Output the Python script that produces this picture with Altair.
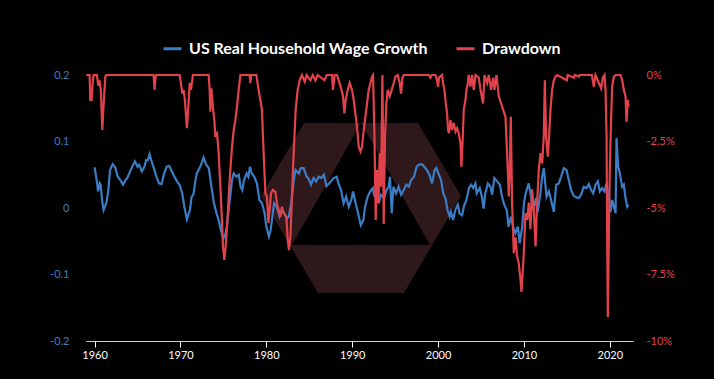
import altair as alt
import pandas as pd
import jinja2

# ---- data ----
wage_years = [1960.0, 1960.3, 1960.4, 1960.6, 1960.7, 1960.9, 1961.05, 1961.4, 1961.6, 1961.8,
              1962.1, 1962.4, 1962.7, 1963.0, 1963.3, 1963.6, 1963.8, 1964.2, 1964.5, 1964.7,
              1965.0, 1965.2, 1965.5, 1965.8, 1966.0, 1966.2, 1966.4, 1966.6, 1966.9, 1967.2,
              1967.5, 1967.8, 1968.1, 1968.4, 1968.7, 1969.0, 1969.3, 1969.6, 1969.9, 1970.2,
              1970.45, 1970.75, 1971.1, 1971.3, 1971.5, 1971.75, 1971.9, 1972.3, 1972.7, 1973.0,
              1973.3, 1973.55, 1973.9, 1974.2, 1974.45, 1974.7, 1975.0, 1975.2, 1975.4, 1975.7,
              1976.0, 1976.2, 1976.5, 1976.8, 1977.0, 1977.2, 1977.4, 1977.7, 1977.9, 1978.1,
              1978.3, 1978.6, 1978.9, 1979.2, 1979.5, 1979.8, 1980.0, 1980.3, 1980.5, 1980.7,
              1980.9, 1981.2, 1981.55, 1981.8, 1982.1, 1982.4, 1982.6, 1982.9, 1983.2, 1983.4,
              1983.8, 1984.0, 1984.35, 1984.7, 1984.9, 1985.2, 1985.5, 1985.8, 1986.1, 1986.4,
              1986.7, 1987.0, 1987.3, 1987.5, 1987.85, 1988.2, 1988.4, 1988.7, 1989.0, 1989.3,
              1989.6, 1989.9, 1990.1, 1990.4, 1990.6, 1991.0, 1991.3, 1991.5, 1991.8, 1992.1,
              1992.4, 1992.6, 1992.8, 1993.1, 1993.35, 1993.7, 1994.0, 1994.25, 1994.4, 1994.6,
              1994.8, 1995.1, 1995.4, 1995.7, 1996.0, 1996.3, 1996.6, 1996.85, 1997.2, 1997.5,
              1997.75, 1998.1, 1998.4, 1998.7, 1999.0, 1999.3, 1999.6, 1999.8, 2000.1, 2000.35,
              2000.6, 2000.85, 2001.1, 2001.35, 2001.5, 2001.75, 2002.0, 2002.3, 2002.5, 2002.8,
              2003.0, 2003.3, 2003.6, 2003.85, 2004.1, 2004.35, 2004.5, 2004.85, 2005.1, 2005.3,
              2005.5, 2005.8, 2006.1, 2006.3, 2006.55, 2006.9, 2007.2, 2007.45, 2007.7, 2008.0,
              2008.2, 2008.5, 2008.7, 2009.0, 2009.3, 2009.5, 2009.8, 2010.0, 2010.2, 2010.55,
              2010.8, 2011.1, 2011.4, 2011.6, 2011.9, 2012.1, 2012.31, 2012.63, 2012.9, 2013.16,
              2013.48, 2013.75, 2014.06, 2014.33, 2014.64, 2014.96, 2015.22, 2015.49, 2015.81, 2016.12,
              2016.39, 2016.66, 2016.97, 2017.29, 2017.56, 2017.82, 2018.06, 2018.34, 2018.6, 2018.84,
              2019.1, 2019.38, 2019.62, 2019.89, 2020.08, 2020.27, 2020.47, 2020.67, 2020.78, 2020.97,
              2021.17, 2021.44, 2021.63, 2021.83, 2022.02, 2022.18]
wage_values = [0.061, 0.037, 0.025, 0.037, 0.035, 0.009, -0.003, 0.009, 0.027, 0.057,
               0.066, 0.061, 0.047, 0.042, 0.035, 0.042, 0.045, 0.057, 0.065, 0.070,
               0.062, 0.065, 0.055, 0.062, 0.072, 0.072, 0.081, 0.072, 0.060, 0.047,
               0.037, 0.036, 0.052, 0.062, 0.063, 0.055, 0.047, 0.040, 0.035, 0.022,
               0.002, -0.017, -0.003, 0.017, 0.020, 0.042, 0.052, 0.062, 0.076, 0.065,
               0.060, 0.037, 0.007, -0.008, -0.018, -0.033, -0.046, -0.041, -0.028, 0.007,
               0.042, 0.052, 0.047, 0.050, 0.032, 0.027, 0.042, 0.052, 0.047, 0.062,
               0.052, 0.047, 0.037, 0.012, 0.007, -0.008, -0.028, -0.043, -0.033, -0.013,
               0.007, 0.002, -0.013, -0.003, -0.008, -0.016, -0.013, 0.007, 0.042, 0.057,
               0.052, 0.060, 0.060, 0.047, 0.045, 0.035, 0.045, 0.040, 0.047, 0.045,
               0.050, 0.033, 0.037, 0.040, 0.045, 0.047, 0.037, 0.027, 0.007, 0.017,
               0.002, 0.012, 0.025, 0.007, -0.003, -0.026, -0.018, 0.002, 0.017, 0.025,
               0.030, 0.017, 0.027, 0.007, 0.020, 0.015, 0.027, 0.032, 0.047, -0.008,
               0.032, 0.022, 0.032, 0.020, 0.027, 0.035, 0.032, 0.042, 0.047, 0.062,
               0.065, 0.066, 0.062, 0.057, 0.050, 0.037, 0.057, 0.060, 0.050, 0.042,
               0.022, 0.015, -0.003, -0.013, -0.006, -0.018, -0.003, 0.005, -0.008, -0.011,
               0.002, 0.012, 0.030, 0.035, 0.030, 0.037, 0.022, 0.030, 0.017, -0.001,
               0.022, 0.037, 0.032, 0.020, 0.045, 0.040, 0.035, 0.017, 0.005, -0.003,
               -0.028, -0.013, -0.026, -0.038, -0.028, -0.053, -0.028, 0.007, 0.022, 0.037,
               0.020, -0.003, 0.015, -0.006, 0.020, 0.045, 0.060, 0.017, 0.025, 0.012,
               -0.006, 0.035, 0.037, 0.047, 0.060, 0.057, 0.042, 0.027, 0.018, 0.016,
               0.015, 0.020, 0.032, 0.030, 0.036, 0.027, 0.022, 0.035, 0.040, 0.025,
               0.030, 0.025, 0.037, 0.017, -0.006, 0.012, 0.002, -0.008, 0.105, 0.062,
               0.052, 0.032, 0.035, 0.015, 0.002, 0.005]

dd_years = [1959.03, 1959.42, 1959.5, 1959.65, 1959.77, 1959.88, 1960.27, 1960.43, 1960.58, 1960.73,
            1960.9, 1961.05, 1961.25, 1961.36, 1966.87, 1966.99, 1967.1, 1967.19, 1969.9, 1970.05,
            1970.22, 1970.37, 1970.52, 1970.75, 1970.92, 1971.07, 1971.22, 1971.45, 1973.28, 1973.4,
            1973.48, 1973.6, 1973.78, 1973.95, 1974.06, 1974.25, 1974.45, 1974.65, 1974.83, 1974.95,
            1975.11, 1975.26, 1975.41, 1975.61, 1975.81, 1976.0, 1976.2, 1976.39, 1976.58, 1976.78,
            1976.98, 1978.06, 1978.14, 1978.23, 1978.84, 1979.1, 1979.3, 1979.49, 1979.61, 1979.77,
            1979.89, 1980.07, 1980.24, 1980.39, 1980.54, 1980.77, 1981.05, 1981.24, 1981.44, 1981.64,
            1981.82, 1982.02, 1982.33, 1982.49, 1982.64, 1982.8, 1982.99, 1983.1, 1983.27, 1983.42,
            1983.65, 1983.88, 1984.15, 1984.47, 1984.7, 1985.13, 1985.4, 1985.71, 1985.98, 1986.76,
            1987.03, 1987.65, 1987.76, 1987.96, 1988.23, 1988.43, 1988.7, 1988.93, 1989.09, 1989.24,
            1989.48, 1989.71, 1989.98, 1990.18, 1990.37, 1990.56, 1990.76, 1990.96, 1991.14, 1991.34,
            1991.54, 1991.73, 1991.92, 1992.12, 1992.31, 1992.43, 1992.59, 1992.74, 1992.89, 1993.05,
            1993.21, 1993.36, 1993.52, 1993.67, 1993.82, 1993.98, 1994.14, 1994.37, 1994.6, 1994.84,
            1995.03, 1995.3, 1995.53, 1995.69, 1995.85, 1996.0, 1998.91, 1999.1, 1999.26, 1999.69,
            1999.88, 2000.0, 2000.11, 2000.46, 2000.58, 2000.74, 2000.9, 2001.05, 2001.16, 2001.28,
            2001.44, 2001.63, 2001.83, 2002.03, 2002.21, 2002.41, 2002.61, 2002.72, 2002.88, 2002.99,
            2003.19, 2003.31, 2003.46, 2003.57, 2003.77, 2003.96, 2004.16, 2004.36, 2004.74, 2004.94,
            2005.24, 2005.4, 2005.71, 2005.9, 2006.17, 2006.41, 2006.57, 2006.8, 2007.07, 2007.34,
            2007.57, 2007.85, 2008.04, 2008.24, 2008.35, 2008.47, 2008.62, 2008.82, 2009.02, 2009.2,
            2009.4, 2009.6, 2009.71, 2009.87, 2009.98, 2010.18, 2010.37, 2010.57, 2010.76, 2010.95,
            2011.15, 2011.35, 2011.53, 2011.73, 2011.93, 2012.12, 2012.31, 2012.43, 2012.58, 2012.78,
            2012.93, 2013.09, 2013.28, 2013.48, 2013.68, 2013.86, 2015.0, 2015.1, 2015.81, 2015.92,
            2016.39, 2016.5, 2017.9, 2018.14, 2018.33, 2018.72, 2018.99, 2019.19, 2019.38, 2019.5,
            2019.62, 2019.69, 2019.77, 2019.89, 2020.0, 2020.15, 2020.27, 2020.47, 2020.67, 2021.25,
            2021.44, 2021.63, 2021.83, 2021.95, 2022.1, 2022.18]
dd_values = [0.0, 0.0, -0.0094, -0.0094, -0.003, 0.0, 0.0, -0.004, -0.002, -0.006,
             -0.0207, -0.011, -0.0006, 0.0, 0.0, -0.0056, -0.0006, 0.0, 0.0, -0.003,
             -0.007, -0.0056, -0.0094, -0.020, -0.012, -0.003, -0.0056, 0.0, 0.0, -0.0056,
             -0.0138, -0.005, -0.012, -0.017, -0.0233, -0.0213, -0.0294, -0.042, -0.0545, -0.0645,
             -0.0695, -0.0645, -0.058, -0.0457, -0.0357, -0.027, -0.0207, -0.017, -0.012, -0.0056,
             0.0, 0.0, -0.003, 0.0, 0.0, -0.0056, -0.0094, -0.013, -0.0233, -0.0357,
             -0.0445, -0.0457, -0.0557, -0.0508, -0.0445, -0.0432, -0.0439, -0.0482, -0.0508, -0.0533,
             -0.0495, -0.052, -0.0533, -0.062, -0.0658, -0.0608, -0.0457, -0.0357, -0.0233, -0.013,
             -0.0056, -0.002, 0.0, -0.0025, 0.0, -0.002, 0.0, -0.002, 0.0, -0.002,
             0.0, 0.0, -0.0056, 0.0, 0.0, -0.002, -0.005, -0.008, -0.0144, -0.0094,
             -0.0056, -0.003, -0.0056, -0.0094, -0.0144, -0.0194, -0.027, -0.0288, -0.027, -0.0207,
             -0.0157, -0.0107, -0.0056, -0.003, -0.0006, 0.0, -0.023, -0.0545, -0.0357, -0.0482,
             -0.0294, -0.042, 0.0, -0.056, -0.0233, -0.0107, -0.0056, -0.008, -0.0056, -0.003,
             -0.0006, 0.0, -0.003, -0.007, -0.001, 0.0, 0.0, -0.001, 0.0, 0.0,
             -0.002, -0.0044, -0.001, 0.0, -0.003, -0.0056, -0.0107, -0.0144, -0.0207, -0.0219,
             -0.017, -0.0207, -0.018, -0.0213, -0.020, -0.0219, -0.0257, -0.0345, -0.0232, -0.013,
             -0.0094, -0.0056, -0.003, 0.0, -0.0044, 0.0, -0.0056, 0.0, -0.001, -0.0056,
             -0.0107, 0.0, -0.003, 0.0, -0.0056, -0.001, -0.0056, 0.0, -0.008, -0.0107,
             -0.013, -0.0157, -0.0294, -0.0457, -0.0357, -0.0157, -0.0482, -0.067, -0.061, -0.068,
             -0.0708, -0.077, -0.0815, -0.0733, -0.067, -0.052, -0.0545, -0.048, -0.058, -0.043,
             -0.0508, -0.0645, -0.048, -0.0357, -0.0294, -0.0332, -0.023, -0.002, -0.023, -0.0307,
             -0.023, -0.013, -0.0056, -0.002, -0.0006, 0.0, -0.002, 0.0, -0.001, 0.0,
             -0.0006, 0.0, 0.0, -0.0044, 0.0, -0.003, -0.005, -0.001, 0.0, -0.0056,
             -0.023, -0.06, -0.091, -0.06, -0.0357, -0.017, -0.0044, -0.0006, 0.0, 0.0,
             -0.002, -0.0056, -0.008, -0.0176, -0.0094, -0.012]

series_names = ["US Real Household Wage Growth", "Drawdown"]
series_colors = ["#3b7dc4", "#e2434b"]
year_ticks = [1960, 1970, 1980, 1990, 2000, 2010, 2020]
wage_ticks = [-0.2, -0.1, 0, 0.1, 0.2]
dd_ticks = [-0.1, -0.075, -0.05, -0.025, 0]

wage_df = pd.DataFrame({"year": wage_years, "value": wage_values, "series": series_names[0]})
dd_df = pd.DataFrame({"year": dd_years, "dd": dd_values, "series": series_names[1]})

FONT = "Lato"
MINUS_FIX = "replace(datum.label, '\u2212', '-')"

x_enc = alt.X("year:Q",
              scale=alt.Scale(domain=[1959.0, 2022.7], nice=False, zero=False),
              axis=alt.Axis(values=year_ticks, format="d", title=None, grid=False,
                            domainColor="#cfcfcf", tickColor="#ffffff", tickSize=6,
                            labelColor="#ffffff", labelFont=FONT, labelFontSize=11,
                            labelPadding=2))

color_enc = alt.Color("series:N",
                      scale=alt.Scale(domain=series_names, range=series_colors),
                      legend=alt.Legend(orient="none", legendX=76, legendY=-37,
                                        direction="horizontal", title=None,
                                        symbolType="stroke", symbolStrokeWidth=3,
                                        symbolSize=324, labelColor="#ffffff",
                                        labelFont=FONT, labelFontSize=16,
                                        labelFontWeight="bold", columnPadding=22,
                                        labelOffset=6, labelLimit=0))

# decorative watermark logo (truncated triangle with a triangular cut-out)
logo_path = ("M0,-0.85 L0.57,-0.85 L1,-0.12 L0.43,0.85 L-0.43,0.85 L-1,-0.12 L-0.57,-0.85 Z "
             "M0,-0.85 L-0.69,0.37 L0.69,0.37 Z")
logo = alt.Chart(pd.DataFrame({"k": [0]})).mark_point(
    shape=logo_path, filled=True, fill="#2f1819", opacity=1, strokeWidth=0, size=40000
).encode(x=alt.value(275), y=alt.value(133))

wage_line = alt.Chart(wage_df).mark_line(strokeWidth=2.2).encode(
    x=x_enc,
    y=alt.Y("value:Q", scale=alt.Scale(domain=[-0.2, 0.2]),
            axis=alt.Axis(values=wage_ticks, format="~g", labelExpr=MINUS_FIX, title=None,
                          grid=False, domain=False, ticks=False,
                          labelColor=series_colors[0], labelFont=FONT, labelFontSize=11,
                          labelPadding=17)),
    color=color_enc,
)

dd_line = alt.Chart(dd_df).mark_line(strokeWidth=2.2).encode(
    x=x_enc,
    y=alt.Y("dd:Q", scale=alt.Scale(domain=[-0.1, 0]),
            axis=alt.Axis(orient="right", values=dd_ticks, format=".1~%", labelExpr=MINUS_FIX,
                          title=None, grid=False, domain=False, ticks=False,
                          labelColor=series_colors[1], labelFont=FONT, labelFontSize=11,
                          labelPadding=13)),
    color=color_enc,
)

chart = alt.layer(logo, wage_line, dd_line).resolve_scale(
    y="independent"
).properties(
    width=547, height=266, background="#000000",
    autosize=alt.AutoSizeParams(type="none"),
    padding={"left": 78, "top": 67, "right": 73, "bottom": 30},
).configure_view(stroke=None)

# page template: same as Altair's standard one, with a black page background
page_template = jinja2.Template("""<!DOCTYPE html>
<html>
<head>
  <meta charset="UTF-8">
  <style>
    html, body { background: #000000; }
    #{{ output_div }}.vega-embed { width: 100%; display: flex; }
    #{{ output_div }}.vega-embed details,
    #{{ output_div }}.vega-embed details summary { position: relative; }
  </style>
  <script type="text/javascript" src="{{ base_url }}/vega@{{ vega_version }}"></script>
  <script type="text/javascript" src="{{ base_url }}/vega-lite@{{ vegalite_version }}"></script>
  <script type="text/javascript" src="{{ base_url }}/vega-embed@{{ vegaembed_version }}"></script>
</head>
<body>
  <div id="{{ output_div }}"></div>
  <script>
    (function(vegaEmbed) {
      var spec = {{ spec }};
      var embedOpt = {{ embed_options }};
      function showError(el, error){
          el.innerHTML = ('<div style="color:red;"><p>JavaScript Error: ' + error.message + '</p></div>');
          throw error;
      }
      const el = document.getElementById('{{ output_div }}');
      vegaEmbed("#{{ output_div }}", spec, embedOpt).catch(error => showError(el, error));
    })(vegaEmbed);
  </script>
</body>
</html>""")

chart.save("out.html", embed_options={"renderer": "svg", "actions": False},
           template=page_template)
